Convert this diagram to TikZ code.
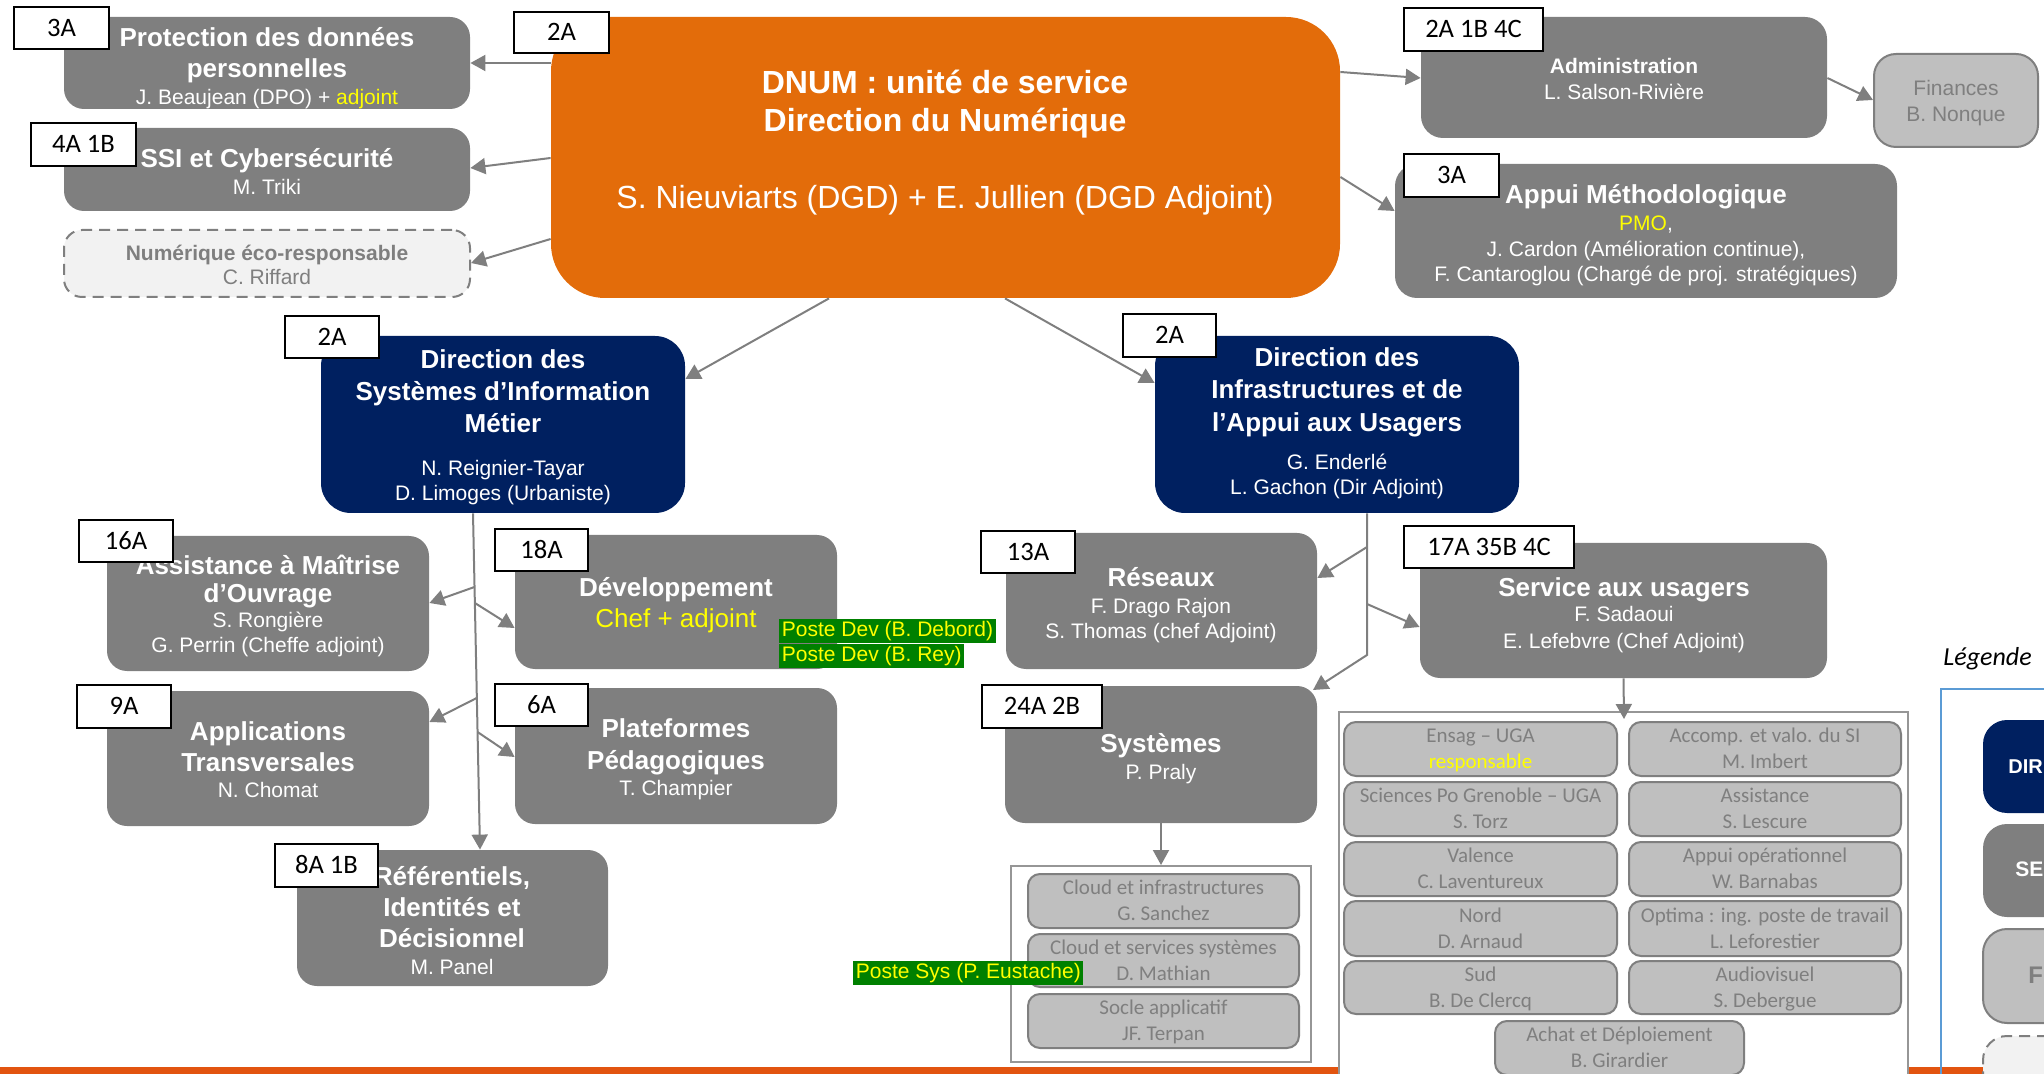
\documentclass[tikz,border=0pt]{standalone}
\usepackage{fontspec}
\setmainfont{Liberation Sans}
\newfontfamily\calibri{Carlito}
\usetikzlibrary{arrows.meta,fit}

\definecolor{boxgray}{RGB}{127,127,127}
\definecolor{navy}{RGB}{0,32,96}
\definecolor{dnumorange}{RGB}{227,108,10}
\definecolor{barorange}{RGB}{226,84,16}
\definecolor{lgray}{RGB}{191,191,191}
\definecolor{paleg}{RGB}{242,242,242}
\definecolor{txtgray}{RGB}{127,127,127}
\definecolor{arrgray}{RGB}{127,127,127}
\definecolor{contgray}{RGB}{150,150,150}
\definecolor{hlgreen}{RGB}{0,128,0}
\definecolor{hlyellow}{RGB}{255,255,0}
\definecolor{legblue}{RGB}{91,155,213}

\tikzset{
  every node/.style={inner sep=0pt},
  graybox/.style={fill=boxgray, rounded corners=10pt},
  navybox/.style={fill=navy, rounded corners=15pt},
  orangebox/.style={fill=dnumorange, rounded corners=27pt},
  ecobox/.style={fill=paleg, draw=boxgray, line width=1pt, dash pattern=on 5.5pt off 3.5pt, rounded corners=9pt},
  finbox/.style={fill=lgray, draw=boxgray, line width=1pt, rounded corners=11pt},
  lbox/.style={fill=lgray, draw=boxgray, line width=1pt, rounded corners=6pt},
  contbox/.style={fill=white, draw=contgray, line width=1pt},
  badge/.style={fill=white, draw=black, line width=1.35pt, font=\calibri\fontsize{13.3}{15}\selectfont,
                text height=8.3pt, text depth=0pt},
  arr/.style={draw=arrgray, line width=1pt, -{Triangle[length=7.5pt,width=8pt]}},
  DT/.style={text=white, font=\fontsize{16}{19}\selectfont\bfseries, text height=11.5pt, text depth=0pt},
  DN/.style={text=white, font=\fontsize{16}{19}\selectfont, text height=11.5pt, text depth=0pt},
  T/.style={text=white, font=\fontsize{13}{15}\selectfont\bfseries, text height=9.3pt, text depth=0pt},
  TN/.style={text=white, font=\fontsize{13}{15}\selectfont, text height=9.3pt, text depth=0pt},
  TS/.style={text=white, font=\fontsize{10.5}{12}\selectfont\bfseries, text height=7.5pt, text depth=0pt},
  N/.style={text=white, font=\fontsize{10.5}{12}\selectfont, text height=7.5pt, text depth=0pt},
  C/.style={text=txtgray, font=\calibri\fontsize{10.5}{12}\selectfont, text height=6.8pt, text depth=0pt},
  hl/.style={fill=hlgreen, text=hlyellow, font=\fontsize{10.5}{12}\selectfont, anchor=west,
             inner xsep=1.25pt, text height=8pt, text depth=2.2pt, minimum height=12pt},
}

\newcommand\cbox[7]{%
  \node[lbox, fit={(#2,#3) (#4,#5)}] (#1) {};
  \node[C] (#1-a) at ([yshift=6.5pt]#1.center) {#6};
  \node[C] (#1-b) at ([yshift=-6.5pt]#1.center) {#7};}

\newcommand\bdg[6]{%
  \node[badge, minimum width={(#4-#2)*0.5pt}, minimum height={(#5-#3)*0.5pt}]
    (#1) at ({(#2+#4)/2},{(#3+#5)/2}) {#6};}

\begin{document}
\begin{tikzpicture}[x=0.5pt,y=-0.5pt]
\useasboundingbox (0,0) rectangle (2044,1074);
\clip (0,0) rectangle (2044,1074);

% bottom orange bar
\fill[barorange] (0,1067) rectangle (2044,1074);

% legend frame
\draw[legblue, line width=0.8pt] (1941,1090) -- (1941,689) -- (2070,689);

% containers
\node[contbox, fit={(1011,866) (1311,1062)}] (syscont) {};
\node[contbox, fit={(1339,712) (1908,1095)}] (servcont) {};

% main boxes
\node[graybox, fit={(64,17) (470,109)}] (prot) {};
\node[graybox, fit={(64,128) (470,211)}] (ssi) {};
\node[ecobox, fit={(64,230) (470,297)}] (eco) {};
\node[orangebox, fit={(551,17) (1340,298)}] (dnum) {};
\node[graybox, rounded corners=11pt, fit={(1421,17) (1827,138)}] (admin) {};
\node[finbox, fit={(1874,54) (2038,147)}] (fin) {};
\node[graybox, rounded corners=11pt, fit={(1395,164) (1897,298)}] (appui) {};
\node[navybox, fit={(321,336) (685,513)}] (dsi) {};
\node[navybox, fit={(1155,336) (1519,513)}] (diau) {};
\node[graybox, fit={(107,536) (429,671)}] (amo) {};
\node[graybox, fit={(515,535) (837,669)}] (dev) {};
\node[graybox, fit={(107,691) (429,826)}] (apps) {};
\node[graybox, fit={(515,688) (837,824)}] (plat) {};
\node[graybox, fit={(297,850) (608,986)}] (ref) {};
\node[graybox, fit={(1006,533) (1317,669)}] (res) {};
\node[graybox, fit={(1420,543) (1827,678)}] (serv) {};
\node[graybox, fit={(1005,686) (1317,823)}] (sys) {};

% inner boxes : systemes
\cbox{cl1}{1028}{874}{1299}{928}{Cloud et infrastructures}{G. Sanchez}
\cbox{cl2}{1028}{934}{1299}{987}{Cloud et services systèmes}{D. Mathian}
\cbox{soc}{1028}{994}{1299}{1048}{Socle applicatif}{JF. Terpan}

% inner boxes : service aux usagers
\cbox{s11}{1344}{722}{1617}{776}{Ensag – UGA}{\textcolor{hlyellow}{responsable}}
\cbox{s21}{1344}{782}{1617}{836}{Sciences Po Grenoble – UGA}{S. Torz}
\cbox{s31}{1344}{842}{1617}{896}{Valence}{C. Laventureux}
\cbox{s41}{1344}{901}{1617}{956}{Nord}{D. Arnaud}
\cbox{s51}{1344}{961}{1617}{1014}{Sud}{B. De Clercq}
\cbox{s12}{1629}{722}{1901}{776}{Accomp. et valo. du SI}{M. Imbert}
\cbox{s22}{1629}{782}{1901}{836}{Assistance}{S. Lescure}
\cbox{s32}{1629}{842}{1901}{896}{Appui opérationnel}{W. Barnabas}
\cbox{s42}{1629}{901}{1901}{956}{Optima : ing. poste de travail}{L. Leforestier}
\cbox{s52}{1629}{961}{1901}{1014}{Audiovisuel}{S. Debergue}
\cbox{s6}{1495}{1021}{1744}{1075}{Achat et Déploiement}{B. Girardier}

% legend boxes
\node[fill=navy, rounded corners=12pt, fit={(1983,720) (2090,813)}] (lgdir) {};
\node[fill=boxgray, rounded corners=12pt, fit={(1983,824) (2090,917)}] (lgser) {};
\node[fill=lgray, draw=boxgray, line width=1pt, rounded corners=12pt, fit={(1983,929) (2090,1023)}] (lgpol) {};
\node[fill=paleg, draw=boxgray, line width=1pt, dash pattern=on 5.5pt off 3.5pt, rounded corners=12pt, fit={(1983,1036) (2090,1110)}] (lgeco) {};
\node[anchor=west, text=white, font=\fontsize{10}{12}\selectfont\bfseries, text height=7.2pt, text depth=0pt] (lgdir-t) at (2008,766) {DIR};
\node[anchor=west, text=white, font=\fontsize{10.5}{12}\selectfont\bfseries, text height=7.5pt, text depth=0pt] (lgser-t) at (2015,869) {SE};
\node[anchor=west, text=txtgray, font=\fontsize{12}{14}\selectfont\bfseries, text height=8.6pt, text depth=0pt] (lgpol-t) at (2028,975) {F};
\node[anchor=west, font=\calibri\itshape\fontsize{13}{15}\selectfont, text height=8.4pt, text depth=0pt] (leg) at (1943,657) {Légende};

% connectors
\draw[arr] (dnum.west |- prot.east) -- (prot.east);
\draw[arr] (dnum.west |- 0,158) -- (ssi.east |- 0,168);
\draw[arr] (dnum.west |- 0,239) -- (eco.east |- 0,263);
\draw[arr] (dnum.east |- 0,72) -- (admin.west |- 0,78);
\draw[arr] (dnum.east |- 0,177) -- (appui.west |- 0,211);
\draw[arr] (admin.east |- 0,78) -- (fin.west |- 0,100);
\draw[arr] (829,0 |- dnum.south) -- (dsi.east |- 0,379);
\draw[arr] (1005,0 |- dnum.south) -- (diau.west |- 0,383);

% DSI trunk
\coordinate (t1) at (474.5,587);
\coordinate (t2) at (474.9,603);
\coordinate (t3) at (476.7,698);
\coordinate (t4) at (477.5,732);
\draw[arr] (473,0 |- dsi.south) -- (480,0 |- ref.north);
\draw[arr] (t1) -- (amo.east |- 0,603);
\draw[arr] (t2) -- (dev.west |- 0,628);
\draw[arr] (t3) -- (apps.east |- 0,722);
\draw[arr] (t4) -- (plat.west |- 0,757);

% DIAU trunk
\coordinate (d1) at (1367,547);
\coordinate (d2) at (1367,604);
\coordinate (d3) at (1367,655);
\draw[arr] (1367,0 |- diau.south) -- (d3) -- (1313,690);
\draw[arr] (d1) -- (res.east |- 0,578);
\draw[arr] (d2) -- (serv.west |- 0,627);
\coordinate (scin) at (1624,719);
\draw[arr] (serv.south) -- (scin);
\draw[arr] (sys.south) -- (sys.south |- syscont.north);

% texts
\node[T] (prot-1) at (267,37) {Protection des données};
\node[T] (prot-2) at (267,68) {personnelles};
\node[N] (prot-3) at (267,97) {J. Beaujean (DPO) + \textcolor{hlyellow}{adjoint}};
\node[T] (ssi-1) at (267,158) {SSI et Cybersécurité};
\node[N] (ssi-2) at (267,187) {M. Triki};
\node[TS, text=txtgray] (eco-1) at (267,253) {Numérique éco-responsable};
\node[N, text=txtgray] (eco-2) at (267,277) {C. Riffard};

\node[DT] (dnum-1) at (945,82) {DNUM : unité de service};
\node[DT] (dnum-2) at (945,120) {Direction du Numérique};
\node[DN] (dnum-3) at (945,197) {S. Nieuviarts (DGD) + E. Jullien (DGD Adjoint)};

\node[TS] (admin-1) at (1624,66) {Administration};
\node[N] (admin-2) at (1624,92) {L. Salson-Rivière};
\node[N, text=txtgray] (fin-1) at (1956,88) {Finances};
\node[N, text=txtgray] (fin-2) at (1956,114) {B. Nonque};

\node[T] (appui-1) at (1646,194) {Appui Méthodologique};
\node[N] (appui-2) at (1646,223) {\textcolor{hlyellow}{PMO},};
\node[N] (appui-3) at (1646,249) {J. Cardon (Amélioration continue),};
\node[N] (appui-4) at (1646,274) {F. Cantaroglou (Chargé de proj. stratégiques)};

\node[T] (dsi-1) at (503,359) {Direction des};
\node[T] (dsi-2) at (503,391) {Systèmes d’Information};
\node[T] (dsi-3) at (503,423) {Métier};
\node[N] (dsi-4) at (503,468) {N. Reignier-Tayar};
\node[N] (dsi-5) at (503,493) {D. Limoges (Urbaniste)};

\node[T] (diau-1) at (1337,357) {Direction des};
\node[T] (diau-2) at (1337,389) {Infrastructures et de};
\node[T] (diau-3) at (1337,422) {l’Appui aux Usagers};
\node[N] (diau-4) at (1337,462) {G. Enderlé};
\node[N] (diau-5) at (1337,487) {L. Gachon (Dir Adjoint)};

\node[T] (amo-1) at (268,565) {Assistance à Maîtrise};
\node[T] (amo-2) at (268,593) {d’Ouvrage};
\node[N] (amo-3) at (268,620) {S. Rongière};
\node[N] (amo-4) at (268,645) {G. Perrin (Cheffe adjoint)};

\node[T] (dev-1) at (676,587) {Développement};
\node[TN, text=hlyellow] (dev-2) at (676,618) {Chef + adjoint};

\node[T] (apps-1) at (268,731) {Applications};
\node[T] (apps-2) at (268,762) {Transversales};
\node[N] (apps-3) at (268,790) {N. Chomat};

\node[T] (plat-1) at (676,728) {Plateformes};
\node[T] (plat-2) at (676,760) {Pédagogiques};
\node[N] (plat-3) at (676,788) {T. Champier};

\node[T] (ref-1) at (452,876) {Référentiels,};
\node[T] (ref-2) at (452,907) {Identités et};
\node[T] (ref-3) at (452,938) {Décisionnel};
\node[N] (ref-4) at (452,967) {M. Panel};

\node[T] (res-1) at (1161,577) {Réseaux};
\node[N] (res-2) at (1161,606) {F. Drago Rajon};
\node[N] (res-3) at (1161,631) {S. Thomas (chef Adjoint)};

\node[T] (serv-1) at (1624,587) {Service aux usagers};
\node[N] (serv-2) at (1624,614) {F. Sadaoui};
\node[N] (serv-3) at (1624,641) {E. Lefebvre (Chef Adjoint)};

\node[T] (sys-1) at (1161,743) {Systèmes};
\node[N] (sys-2) at (1161,772) {P. Praly};

% green highlights
\node[hl] (pdev1) at (779,631) {Poste Dev (B. Debord)};
\node[hl] (pdev2) at (779,655.5) {Poste Dev (B. Rey)};
\node[hl] (psys) at (853,972.5) {Poste Sys (P. Eustache)};

% badges
\bdg{b-prot}{14}{7}{109}{49}{3A}
\bdg{b-ssi}{31}{123}{136}{166}{4A 1B}
\bdg{b-dnum}{514}{12}{609}{53}{2A}
\bdg{b-admin}{1404}{8}{1543}{51}{2A 1B 4C}
\bdg{b-appui}{1404}{154}{1499}{197}{3A}
\bdg{b-dsi}{285}{316}{379}{358}{2A}
\bdg{b-diau}{1123}{314}{1216}{357}{2A}
\bdg{b-amo}{79}{520}{173}{562}{16A}
\bdg{b-dev}{495}{529}{588}{571}{18A}
\bdg{b-apps}{77}{685}{171}{728}{9A}
\bdg{b-plat}{495}{684}{588}{726}{6A}
\bdg{b-ref}{275}{844}{378}{887}{8A 1B}
\bdg{b-res}{981}{531}{1075}{573}{13A}
\bdg{b-serv}{1404}{526}{1574}{568}{17A 35B 4C}
\bdg{b-sys}{982}{685}{1102}{728}{24A 2B}
\end{tikzpicture}
\end{document}
